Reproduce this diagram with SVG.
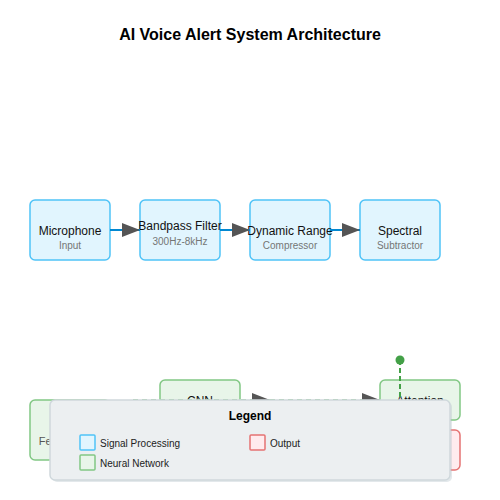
<svg xmlns="http://www.w3.org/2000/svg" width="500" height="500" viewBox="0 0 500 500">
  <defs>
    <style>
      text { font-family: "Liberation Sans", Arial, sans-serif; }
      .title { font-size: 16px; font-weight: bold; fill: #000; }
      .lbl { font-size: 12px; fill: #111; text-anchor: middle; }
      .sub { font-size: 10px; fill: #757575; text-anchor: middle; }
      .sig { fill: #e1f5fe; stroke: #4fc3f7; stroke-width: 1.5; }
      .nn { fill: #e8f5e9; stroke: #81c784; stroke-width: 1.5; }
      .out { fill: #ffebee; stroke: #e57373; stroke-width: 1.5; }
      .flow { stroke: #0288d1; stroke-width: 2; fill: none; }
      .dash { stroke: #66bb6a; stroke-width: 1.5; stroke-dasharray: 5,4; fill: none; }
      .vdash { stroke: #43a047; stroke-width: 2; stroke-dasharray: 5,3; fill: none; }
      .leg { fill: #eceff1; stroke: #cfd8dc; stroke-width: 1.5; }
      .legtitle { font-size: 12px; font-weight: bold; fill: #000; text-anchor: middle; }
      .legtxt { font-size: 10px; fill: #222; }
    </style>
    <marker id="arrow" markerUnits="userSpaceOnUse" markerWidth="18" markerHeight="14" refX="18" refY="7" orient="auto">
      <path d="M0,0 L18,7 L0,14 z" fill="#555"/>
    </marker>
  </defs>

  <rect width="500" height="500" fill="#ffffff"/>

  <text class="title" x="250" y="40" text-anchor="middle">AI Voice Alert System Architecture</text>

  <g id="node-microphone">
    <rect class="sig" x="30" y="200" width="80" height="60" rx="5"/>
    <text class="lbl" x="70" y="235">Microphone</text>
    <text class="sub" x="70" y="249">Input</text>
  </g>
  <g id="node-bandpass">
    <rect class="sig" x="140" y="200" width="80" height="60" rx="5"/>
    <text class="lbl" x="180" y="230">Bandpass Filter</text>
    <text class="sub" x="180" y="245">300Hz-8kHz</text>
  </g>
  <g id="node-dynamic">
    <rect class="sig" x="250" y="200" width="80" height="60" rx="5"/>
    <text class="lbl" x="290" y="235">Dynamic Range</text>
    <text class="sub" x="290" y="249">Compressor</text>
  </g>
  <g id="node-spectral">
    <rect class="sig" x="360" y="200" width="80" height="60" rx="5"/>
    <text class="lbl" x="400" y="235">Spectral</text>
    <text class="sub" x="400" y="249">Subtractor</text>
  </g>

  <g id="node-feature">
    <rect class="nn" x="30" y="400" width="80" height="60" rx="5"/>
    <text x="70" y="445" text-anchor="middle" font-size="11" fill="#555">Feature Map</text>
  </g>
  <g id="node-cnn">
    <rect class="nn" x="160" y="380" width="80" height="40" rx="5"/>
    <text class="lbl" x="200" y="405">CNN</text>
  </g>
  <g id="node-attention">
    <rect class="nn" x="380" y="380" width="80" height="40" rx="5"/>
    <text class="lbl" x="420" y="405">Attention</text>
  </g>
  <g id="node-output">
    <rect class="out" x="380" y="430" width="80" height="40" rx="5"/>
    <text class="lbl" x="420" y="454">Alert</text>
  </g>

  <g id="connectors">
    <line class="flow" x1="110" y1="230" x2="140" y2="230" marker-end="url(#arrow)"/>
    <line class="flow" x1="220" y1="230" x2="250" y2="230" marker-end="url(#arrow)"/>
    <line class="flow" x1="330" y1="230" x2="360" y2="230" marker-end="url(#arrow)"/>
    <line class="dash" x1="133" y1="400" x2="270" y2="400" marker-end="url(#arrow)"/>
    <line class="dash" x1="270" y1="400" x2="380" y2="400" marker-end="url(#arrow)"/>
    <line class="vdash" x1="400" y1="360" x2="400" y2="420"/>
    <circle cx="400" cy="360" r="4.5" fill="#43a047"/>
  </g>

  <g id="legend">
    <rect x="52" y="402" width="400" height="80" rx="5" fill="#b0bec5" opacity="0.35"/>
    <rect class="leg" x="50" y="400" width="400" height="80" rx="5"/>
    <text class="legtitle" x="250" y="420">Legend</text>
    <rect class="sig" x="80" y="435" width="15" height="15" rx="1"/>
    <text class="legtxt" x="100" y="447">Signal Processing</text>
    <rect class="nn" x="80" y="455" width="15" height="15" rx="1"/>
    <text class="legtxt" x="100" y="467">Neural Network</text>
    <rect class="out" x="250" y="435" width="15" height="15" rx="1"/>
    <text class="legtxt" x="270" y="447">Output</text>
  </g>
</svg>
